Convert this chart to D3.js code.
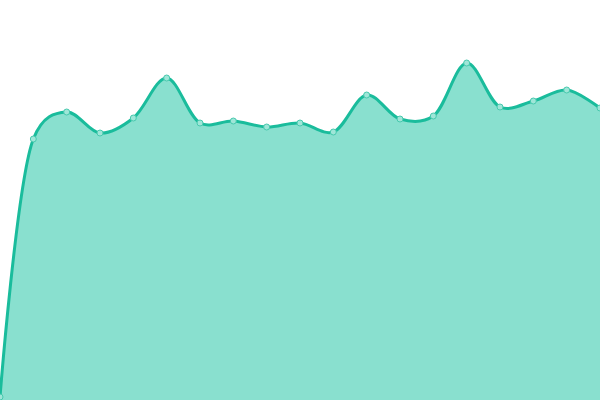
<!DOCTYPE html>
<html>
<head>
<meta charset="utf-8">
<script src="https://cdn.jsdelivr.net/npm/d3@7"></script>
<style>
  html, body { margin: 0; padding: 0; background: #fff; }
  svg { display: block; }
</style>
</head>
<body>
<svg width="600" height="400"></svg>
<script>
// data
const labels = d3.range(19);
const values = [3, 261, 288, 267, 282, 322, 277, 279, 273, 277, 268, 305, 281, 284, 337, 293, 299, 310, 292];

window.onload = () => {
  const svg = d3.select("svg");
  const width = +svg.attr("width");
  const height = +svg.attr("height");

  const data = labels.map((l, i) => ({ x: l, y: values[i] }));

  const xScale = d3.scaleLinear()
    .domain(d3.extent(labels))
    .range([0, width]);
  const yScale = d3.scaleLinear()
    .domain([0, 400])
    .range([height, 0]);

  const curve = d3.curveCatmullRom.alpha(0.3);

  const area = d3.area()
    .x(d => xScale(d.x))
    .y0(height)
    .y1(d => yScale(d.y))
    .curve(curve);

  const line = d3.line()
    .x(d => xScale(d.x))
    .y(d => yScale(d.y))
    .curve(curve);

  svg.append("path")
    .datum(data)
    .attr("d", area)
    .attr("fill", "#89e0cf");

  svg.append("path")
    .datum(data)
    .attr("d", line)
    .attr("fill", "none")
    .attr("stroke", "#1abc9c")
    .attr("stroke-width", 3);

  svg.selectAll("circle")
    .data(data)
    .enter()
    .append("circle")
    .attr("cx", d => xScale(d.x))
    .attr("cy", d => yScale(d.y))
    .attr("r", 3)
    .attr("fill", "#9fe6d8")
    .attr("stroke", "#48c9ae")
    .attr("stroke-width", 1);
};
</script>
</body>
</html>
